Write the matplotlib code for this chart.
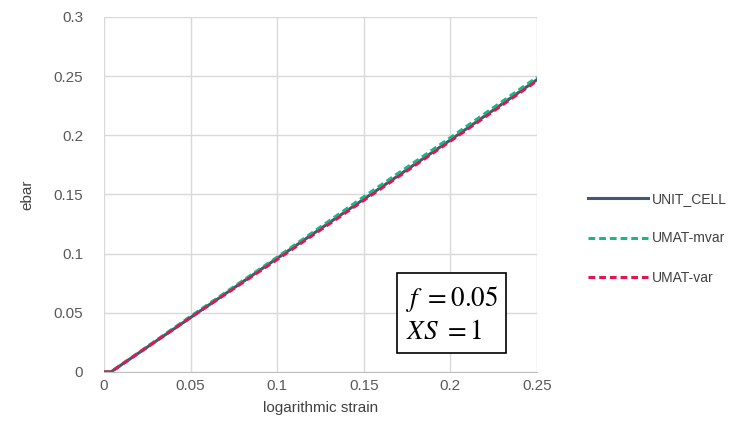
import matplotlib
matplotlib.use("Agg")
import matplotlib.pyplot as plt

strain = [0.0, 0.004, 0.05, 0.10, 0.15, 0.20, 0.25]
unit_cell = [0.0, 0.0, 0.046, 0.096, 0.146, 0.196, 0.247]
umat_mvar = [0.0, 0.0, 0.047, 0.097, 0.148, 0.198, 0.249]
umat_var = [0.0, 0.0, 0.046, 0.095, 0.145, 0.195, 0.246]
xticks = [0, 0.05, 0.1, 0.15, 0.2, 0.25]
xticklabels = ["0", "0.05", "0.1", "0.15", "0.2", "0.25"]
yticks = [0, 0.05, 0.1, 0.15, 0.2, 0.25, 0.3]
yticklabels = ["0", "0.05", "0.1", "0.15", "0.2", "0.25", "0.3"]

plt.rcParams['font.family'] = ['Liberation Sans', 'DejaVu Sans']
plt.rcParams['mathtext.fontset'] = 'stix'

fig = plt.figure(figsize=(7.55, 4.46), dpi=100)
ax = fig.add_axes([0.1377, 0.166, 0.5735, 0.796])

ax.plot(strain, unit_cell, color='#3F5A78', lw=2.2, label='UNIT_CELL')
ax.plot(strain, umat_mvar, color='#17B884', lw=2.2, ls=(0, (2.2, 1.3)), label='UMAT-mvar')
ax.plot(strain, umat_var, color='#E0174F', lw=2.2, ls=(0, (2.2, 1.3)), label='UMAT-var')

ax.set_xlim(0, 0.25)
ax.set_ylim(0, 0.3)
ax.set_xticks(xticks)
ax.set_xticklabels(xticklabels)
ax.set_yticks(yticks)
ax.set_yticklabels(yticklabels)
ax.grid(True, color='#D9D9D9', lw=1)
ax.set_axisbelow(True)
for s in ['top', 'right', 'left']:
    ax.spines[s].set_visible(False)
ax.spines['bottom'].set_color('#BFBFBF')
ax.tick_params(axis='y', length=0, labelsize=11, colors='#595959', pad=15)
ax.tick_params(axis='x', length=0, labelsize=11, colors='#595959', pad=5)
ax.set_xlabel('logarithmic strain', fontsize=11, color='#404040', labelpad=6)
ax.set_ylabel('ebar', fontsize=11, color='#404040', labelpad=14)

leg = ax.legend(loc='center left', bbox_to_anchor=(1.09, 0.376), frameon=False,
                fontsize=10, handlelength=4.3, labelspacing=1.85, handletextpad=0.3,
                labelcolor='#404040')

ax.text(0.803, 0.163, r'$f\ = 0.05$' + '\n' + r'$XS\ = 1$', transform=ax.transAxes,
        fontsize=19.5, va='center', ha='center', multialignment='left', linespacing=1.25,
        bbox=dict(boxstyle='square,pad=0.3', fc='white', ec='black', lw=1.2))

fig.savefig('out.png', dpi=100)
